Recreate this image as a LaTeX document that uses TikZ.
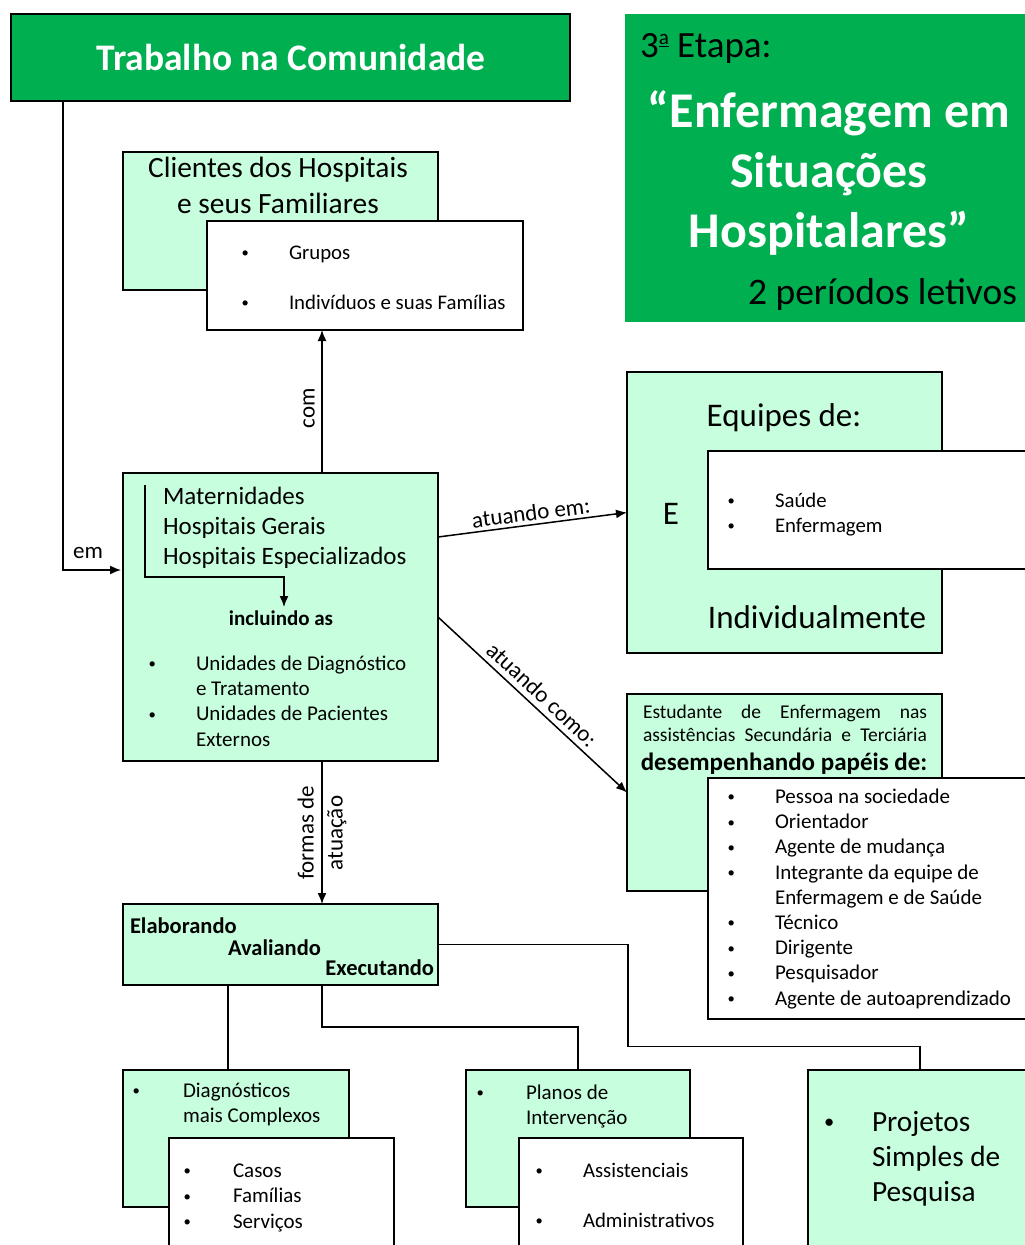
\documentclass[tikz,border=0pt]{standalone}
\usepackage{fontspec}
\setmainfont{Carlito}
\usetikzlibrary{positioning}
\usetikzlibrary{arrows.meta}
\usetikzlibrary{calc}

\definecolor{stagegreen}{RGB}{0,176,80}
\definecolor{mint}{RGB}{199,255,222}

\newcommand{\itm}[1][49pt]{\makebox[#1][l]{\hspace*{0.075em}\raisebox{0.07em}{\scalebox{0.7}{\textbullet}}}}
\newcommand{\gap}[1][49pt]{\hspace*{#1}}

\begin{document}
\begin{tikzpicture}[ x                 = 1pt
                   , y                 = -1pt
                   , every node/.style = { inner sep = 0pt
                                         , outer sep = 0pt
                                         }
                   % Use latex style arrows
                   , >={Latex[width=9pt, length=11pt]}
                   ]

  %%
  %% Node types
  %%
  \tikzset{ box/.style={rectangle, anchor=north west, draw=black, line width=1.6pt}
          , headbox/.style={box, fill=stagegreen}
          , stagebox/.style={rectangle, anchor=north west, fill=stagegreen}
          , mintbox/.style={box, fill=mint}
          , listbox/.style={box, fill=white}
          , lbl/.style={font=\fontsize{23}{27}\selectfont}
          }

  %%
  %% Arrow types
  %%
  \tikzset{ link/.style={->, line width=1.5pt}
          , plain/.style={line width=1.5pt}
          }

  \useasboundingbox (0,0) rectangle (1025,1245);
  \clip (0,0) rectangle (1025,1245);

  %%
  %% Boxes
  %%
  \node (title) [headbox,  minimum width=559pt, minimum height=87pt ] at (11,14)    {};
  \node (stage) [stagebox, minimum width=402pt, minimum height=308pt] at (625,14)   {};

  \node (cli)   [mintbox,  minimum width=315pt, minimum height=138pt] at (123,152)  {};
  \node (grp)   [listbox,  minimum width=316pt, minimum height=109pt] at (207,221)  {};

  \node (hosp)  [mintbox,  minimum width=315pt, minimum height=288pt] at (123,473)  {};

  \node (equ)   [mintbox,  minimum width=315pt, minimum height=281pt] at (627,372)  {};
  \node (sau)   [listbox,  minimum width=322pt, minimum height=118pt] at (708,451)  {};

  \node (est)   [mintbox,  minimum width=315pt, minimum height=197pt] at (627,694)  {};
  \node (pap)   [listbox,  minimum width=322pt, minimum height=241pt] at (708,778)  {};

  \node (elab)  [mintbox,  minimum width=315pt, minimum height=81pt ] at (123,904)  {};

  \node (diag)  [mintbox,  minimum width=226pt, minimum height=137pt] at (123,1070) {};
  \node (cas)   [listbox,  minimum width=225pt, minimum height=122pt] at (169,1138) {};
  \node (plan)  [mintbox,  minimum width=224pt, minimum height=137pt] at (466,1070) {};
  \node (adm)   [listbox,  minimum width=224pt, minimum height=122pt] at (519,1138) {};
  \node (proj)  [mintbox,  minimum width=224pt, minimum height=190pt] at (808,1070) {};

  %%
  %% Texts (multi-line nodes sit on the baseline of their last line)
  %%
  \node (titletxt) [anchor=base, text=white, font=\bfseries\fontsize{37.5}{43}\selectfont] at (291,70) {Trabalho na Comunidade};

  \node (etapa)    [anchor=base west, font=\fontsize{37}{42}\selectfont] at (640,57)
                   {3\raisebox{0.33em}{\fontsize{21}{21}\selectfont\underline{a}} Etapa:};
  \node (stagetxt) [anchor=base, align=center, text=white, font=\bfseries\fontsize{50}{60}\selectfont] at (829,247)
                   {“Enfermagem em\\Situações\\Hospitalares”};
  \node (periodos) [anchor=base east, font=\fontsize{37.5}{42}\selectfont] at (1017,304) {2 períodos letivos};

  \node (clitxt) [anchor=base, align=center, font=\fontsize{29.4}{36}\selectfont] at (278,213)
                 {Clientes dos Hospitais\\e seus Familiares};
  \node (grptxt) [anchor=base west, align=left, font=\fontsize{20.8}{50}\selectfont] at (240,309)
                 {\itm Grupos\\\itm Indivíduos e suas Famílias};

  \node (hosptxt) [anchor=base west, align=left, font=\fontsize{25}{30}\selectfont] at (163,564)
                  {Maternidades\\Hospitais Gerais\\Hospitais Especializados};
  \node (incl)    [anchor=base, font=\bfseries\fontsize{21}{25}\selectfont] at (281,625) {incluindo as};
  \node (unitxt)  [anchor=base west, align=left, font=\fontsize{21}{25.3}\selectfont] at (147,746)
                  {\itm Unidades de Diagnóstico\\\gap e Tratamento\\\itm Unidades de Pacientes\\\gap Externos};

  \node (equtxt) [anchor=base, font=\fontsize{33}{38}\selectfont] at (784,426) {Equipes de:};
  \node (etxt)   [anchor=base, font=\fontsize{33}{38}\selectfont] at (671,524) {E};
  \node (indtxt) [anchor=base, font=\fontsize{33}{38}\selectfont] at (817,628) {Individualmente};
  \node (sautxt) [anchor=base west, align=left, font=\fontsize{20.8}{25}\selectfont] at (726,532)
                 {\itm Saúde\\\itm Enfermagem};

  \node (esttxt) [anchor=base west, align=left, font=\fontsize{19.5}{23}\selectfont] at (643,741)
                 {\makebox[284pt][s]{Estudante de Enfermagem nas}\\\makebox[284pt][s]{assistências Secundária e Terciária}};
  \node (papel)  [anchor=base, font=\bfseries\fontsize{25}{29}\selectfont] at (784,770) {desempenhando papéis de:};
  \node (paptxt) [anchor=base west, align=left, font=\fontsize{21}{25.2}\selectfont] at (726,1005)
                 {\itm Pessoa na sociedade\\\itm Orientador\\\itm Agente de mudança\\\itm Integrante da equipe de\\
                  \gap Enfermagem e de Saúde\\\itm Técnico\\\itm Dirigente\\\itm Pesquisador\\\itm Agente de autoaprendizado};

  \node (elabtxt) [anchor=base west, font=\bfseries\fontsize{22.5}{26}\selectfont] at (130,933) {Elaborando};
  \node (avaltxt) [anchor=base west, font=\bfseries\fontsize{22.5}{26}\selectfont] at (228,955) {Avaliando};
  \node (exectxt) [anchor=base east, font=\bfseries\fontsize{22.5}{26}\selectfont] at (434,975) {Executando};

  \node (diagtxt) [anchor=base west, align=left, font=\fontsize{21}{25}\selectfont] at (131,1122)
                  {\itm[52pt]Diagnósticos\\\gap[52pt]mais Complexos};
  \node (castxt)  [anchor=base west, align=left, font=\fontsize{21}{25.5}\selectfont] at (182,1228)
                  {\itm[51pt]Casos\\\itm[51pt]Famílias\\\itm[51pt]Serviços};
  \node (plantxt) [anchor=base west, align=left, font=\fontsize{21}{25}\selectfont] at (475,1124)
                  {\itm[51pt]Planos de\\\gap[51pt]Intervenção};
  \node (admtxt)  [anchor=base west, align=left, font=\fontsize{20.8}{50}\selectfont] at (534,1227)
                  {\itm Assistenciais\\\itm Administrativos};
  \node (projtxt) [anchor=base west, align=left, font=\fontsize{29.3}{35}\selectfont] at (822,1201)
                  {\itm[50pt]Projetos\\\gap[50pt]Simples de\\\gap[50pt]Pesquisa};

  %%
  %% Relationships between nodes
  %%
  \coordinate (emx)  at (63,0);
  \coordinate (emin) at (121,570);
  \coordinate (comx) at (322,0);

  %%% Trabalho na comunidade
  \draw[link] (title.south -| emx) |- (emin);
  \node (em) [lbl] at (88,553) {em};

  %%% Hospitais
  \draw[link] (hosp.north -| comx) -- (grp.south -| comx);
  \node (com) [lbl, rotate=90] at (309,408) {com};

  \coordinate (brtop) at (145,485);
  \coordinate (brmid) at (284,577);
  \coordinate (brend) at (284,607);
  \draw[link] (brtop) |- (brmid) -- (brend);

  \draw[link] ($(hosp.north east)+(0,64)$) -- (equ.west)
    node (atem) [lbl, midway, sloped, above=4pt] {atuando em:};
  \draw[link] (hosp.east) -- (est.west)
    node (atcomo) [lbl, midway, sloped, above=6pt] {atuando como:};

  \draw[link] (hosp.south -| comx) -- (elab.north -| comx);
  \node (formas) [rotate=90, align=center, font=\fontsize{23}{29}\selectfont] at (322,833) {formas de\\atuação};

  %%% Formas de atuacao
  \coordinate (diagx) at (228,0);
  \draw[plain] (elab.south -| diagx) -- (diag.north -| diagx);
  \draw[plain] (elab.south -| comx) -- ++(0,42) -| (plan.north);
  \draw[plain] (elab.east) -| ++(190,102) -| (proj.north);

\end{tikzpicture}
\end{document}
